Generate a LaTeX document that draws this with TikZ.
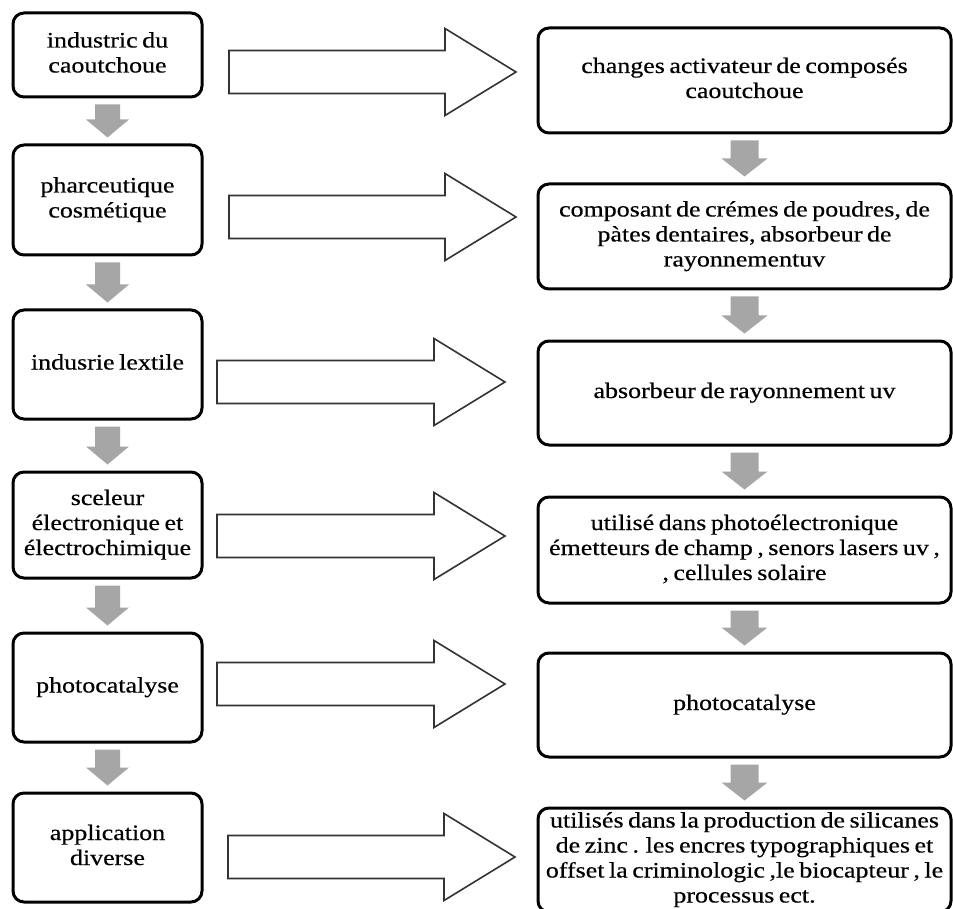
\documentclass[tikz,border=0pt]{standalone}
\usepackage{fontspec}
\usepackage{graphicx}
\setmainfont{Liberation Serif}[WordSpace=0.7,FakeBold=0.4]
\usetikzlibrary{calc}

% centred block of lines, set a little wide
\newcommand\tx[1]{\scalebox{1.18}[1]{\begin{tabular}{@{}c@{}}#1\end{tabular}}}

\tikzset{
  box/.style={draw=black, line width=3pt, rounded corners=11pt, fill=white,
    align=center, inner sep=0pt, font=\fontsize{22}{25}\selectfont},
  lbox/.style={box, minimum width=189pt},
  rbox/.style={box, minimum width=413pt},
  garrow/.style={fill=black!35},
  barrow/.style={draw=black!80, line width=1.6pt, fill=white, line join=miter}
}

% grey downward arrow between two stacked boxes
\newcommand\stackarrow[4]{% #1 upper node, #2 lower node, #3 shaft half width, #4 head half width
  \fill[garrow] let \p1=(#1.south), \p2=(#2.north) in
    (\x1-#3pt,\y1-6pt) -- (\x1+#3pt,\y1-6pt) -- (\x1+#3pt,\y2+24pt) --
    (\x1+#4pt,\y2+24pt) -- (\x1,\y2+6pt) -- (\x1-#4pt,\y2+24pt) --
    (\x1-#3pt,\y2+24pt) -- cycle;}

% wide outlined arrow from a tail coordinate to a tip coordinate
\newcommand\blockarrow[2]{%
  \draw[barrow] let \p1=(#1), \p2=(#2) in
    (\x1,\y1+21.5pt) -- (\x2-71pt,\y1+21.5pt) -- (\x2-71pt,\y1+43.5pt) --
    (\x2,\y2) -- (\x2-71pt,\y1-43.5pt) -- (\x2-71pt,\y1-21.5pt) --
    (\x1,\y1-21.5pt) -- cycle;}

\begin{document}
\begin{tikzpicture}[x=1pt, y=-1pt]
\useasboundingbox (0,0) rectangle (953,909);
\clip (0,0) rectangle (953,909);
\fill[white] (0,0) rectangle (953,909);

% sectors
\node[lbox, minimum height=84pt]  (L1) at (107.5,55)    {\tx{industric du\\caoutchoue}};
\node[lbox, minimum height=110pt] (L2) at (107.5,200)   {\tx{pharceutique\\cosmétique}};
\node[lbox, minimum height=109pt] (L3) at (107.5,364.5) {\tx{indusrie lextile}};
\node[lbox, minimum height=106pt] (L4) at (107.5,525)   {\tx{sceleur\\électronique et\\électrochimique}};
\node[lbox, minimum height=109pt] (L5) at (107.5,687.5) {\tx{photocatalyse}};
\node[lbox, minimum height=109pt] (L6) at (107.5,847.5) {\tx{application\\diverse}};

% uses
\node[rbox, minimum height=105pt] (R1) at (744.5,80.5)  {\tx{changes activateur de composés\\caoutchoue}};
\node[rbox, minimum height=105pt] (R2) at (744.5,236.5) {\tx{composant de crémes de poudres, de\\pàtes dentaires, absorbeur de\\rayonnementuv}};
\node[rbox, minimum height=104pt] (R3) at (744.5,393)   {\tx{absorbeur de rayonnement uv}};
\node[rbox, minimum height=106pt] (R4) at (744.5,550)   {\tx{utilisé dans photoélectronique\\émetteurs de champ , senors lasers uv ,\\, cellules solaire}};
\node[rbox, minimum height=104pt] (R5) at (744.5,705)   {\tx{photocatalyse}};
\node[rbox, minimum height=104pt] (R6) at (744.5,860)   {\tx{utilisés dans la production de silicanes\\de zinc . les encres typographiques et\\offset la criminologic ,le biocapteur , le\\processus ect.}};

% grey arrows down each column
\stackarrow{L1}{L2}{12.5}{21.5}
\stackarrow{L2}{L3}{12.5}{21.5}
\stackarrow{L3}{L4}{12.5}{21.5}
\stackarrow{L4}{L5}{12.5}{21.5}
\stackarrow{L5}{L6}{12.5}{21.5}
\stackarrow{R1}{R2}{14}{23}
\stackarrow{R2}{R3}{14}{23}
\stackarrow{R3}{R4}{14}{23}
\stackarrow{R4}{R5}{14}{23}
\stackarrow{R5}{R6}{14}{23}

% tails and tips of the wide arrows
\coordinate (t1) at (229,72);   \coordinate (p1) at (516,72);
\coordinate (t2) at (229,217);  \coordinate (p2) at (516,217);
\coordinate (t3) at (217,382);  \coordinate (p3) at (505,382);
\coordinate (t4) at (217,536);  \coordinate (p4) at (505,536);
\coordinate (t5) at (217,684);  \coordinate (p5) at (505,684);
\coordinate (t6) at (228,857);  \coordinate (p6) at (515,857);
\blockarrow{t1}{p1}
\blockarrow{t2}{p2}
\blockarrow{t3}{p3}
\blockarrow{t4}{p4}
\blockarrow{t5}{p5}
\blockarrow{t6}{p6}
\end{tikzpicture}
\end{document}
